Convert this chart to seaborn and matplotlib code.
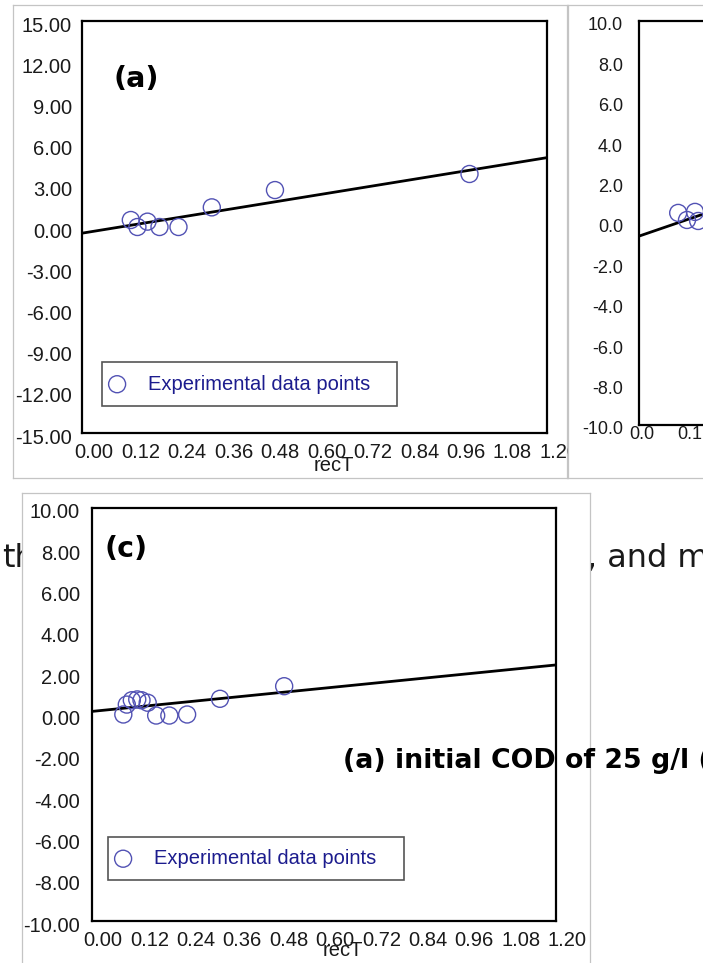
import matplotlib
matplotlib.use("Agg")
import matplotlib.pyplot as plt
import seaborn as sns
from matplotlib.font_manager import FontProperties
from matplotlib.transforms import ScaledTranslation

# ---------------- data ----------------
a_x = [0.126, 0.143, 0.169, 0.200, 0.249, 0.335, 0.498, 1.000]
a_y = [0.51, 0.00, 0.39, 0.00, 0.00, 1.43, 2.69, 3.86]
a_fit_x = [0.0, 1.2]
a_fit_y = [-0.45, 5.05]

b_x = [0.098, 0.120, 0.140, 0.148]
b_y = [0.50, 0.15, 0.55, 0.10]
b_fit_x = [0.0, 1.2]
b_fit_y = [-0.65, 7.50]

c_x = [0.081, 0.090, 0.103, 0.117, 0.128, 0.144, 0.166, 0.200, 0.246, 0.331, 0.497]
c_y = [0.00, 0.48, 0.69, 0.73, 0.69, 0.57, -0.05, -0.05, 0.00, 0.76, 1.37]
c_fit_x = [0.0, 1.2]
c_fit_y = [0.15, 2.40]

x_ticks = [0.00, 0.12, 0.24, 0.36, 0.48, 0.60, 0.72, 0.84, 0.96, 1.08, 1.20]
a_y_ticks = [-15, -12, -9, -6, -3, 0, 3, 6, 9, 12, 15]
bc_y_ticks = [-10, -8, -6, -4, -2, 0, 2, 4, 6, 8, 10]

legend_label = "Experimental data points"
x_label = "recT"
panel_labels = ["(a)", "(b)", "(c)"]
caption_text = "(a) initial COD of 25 g/l ("
page_text_left = "th"
page_text_right = ", and m"

# ---------------- style ----------------
sns.set_theme(style="white")
plt.rcParams["font.family"] = ["DejaVu Sans"]

W, H = 703, 963
fig = plt.figure(figsize=(W / 100, H / 100), dpi=100)
fig.patch.set_facecolor("white")


def rect(l, t, r, b):
    return [l / W, 1 - b / H, (r - l) / W, (b - t) / H]


MARK = "#5252b4"
TXT = "#1a1a1a"
LEGTXT = "#1c1c8e"
FRAME = "#c4c4c4"


def frame_axes(r, z):
    f = fig.add_axes(rect(*r), zorder=z)
    f.set_facecolor("white")
    f.set_xticks([])
    f.set_yticks([])
    for s in f.spines.values():
        s.set_color(FRAME)
        s.set_linewidth(0.9)
    return f


def panel(ax, xs, ys, fx, fy, yticks, ylim, ydec, xdec, fs, xpad, ypad,
          xshift, leg_bbox, lab, lab_pos, xlab_pos):
    sns.lineplot(x=fx, y=fy, ax=ax, color="black", lw=2.0, zorder=3,
                 estimator=None, sort=False)
    sns.scatterplot(x=xs, y=ys, ax=ax, marker="o", s=150, color=MARK,
                    facecolor="none", edgecolor=MARK, linewidth=1.0,
                    label=legend_label, zorder=4)
    ax.set_xlim(0, 1.2)
    ax.set_ylim(*ylim)
    ax.set_xticks(x_ticks)
    ax.set_xticklabels([f"{v:.{xdec}f}" for v in x_ticks])
    ax.set_yticks(yticks)
    ax.set_yticklabels([f"{v:.{ydec}f}" for v in yticks])
    ax.tick_params(axis="both", direction="in", length=4, width=0.8, colors="#8a8a8a",
                   labelcolor=TXT)
    ax.tick_params(axis="x", pad=xpad)
    ax.tick_params(axis="y", pad=ypad)
    tfp = FontProperties(family="Liberation Sans", size=fs)
    for t in ax.get_xticklabels() + ax.get_yticklabels():
        t.set_fontproperties(tfp)
        t.set_color(TXT)
    for t in ax.get_xticklabels():
        t.set_transform(t.get_transform() + ScaledTranslation(xshift / 100, 0, fig.dpi_scale_trans))
    for t in ax.get_yticklabels():
        t.set_transform(t.get_transform() + ScaledTranslation(0, -3 / 100, fig.dpi_scale_trans))
    for s in ax.spines.values():
        s.set_color("black")
        s.set_linewidth(1.6)
        s.set_visible(True)
    ax.set_facecolor("white")
    ax.set_xlabel(x_label, fontproperties=FontProperties(family="Liberation Sans", size=14.5),
                  color=TXT)
    ax.set_ylabel("")
    ax.xaxis.set_label_coords(*xlab_pos)
    ax.xaxis.label.set_va("center")
    leg = ax.legend(loc="center left", bbox_to_anchor=leg_bbox, mode="expand",
                    borderaxespad=0, frameon=True, fancybox=False,
                    edgecolor="#555555", framealpha=1, borderpad=0.6,
                    handlelength=0.3, handletextpad=1.4,
                    prop=FontProperties(family="Liberation Sans", size=14.5),
                    labelcolor=LEGTXT)
    leg.get_frame().set_linewidth(1.2)
    if lab is not None:
        ax.text(lab_pos[0], lab_pos[1], lab, transform=ax.transAxes, va="baseline",
                ha="left", fontsize=20.5, fontweight="bold", family="DejaVu Sans",
                color="black", zorder=6)


# page text underneath the images
fig.text(2 / W, 1 - 567 / H, page_text_left, fontsize=23, family="DejaVu Sans",
         va="baseline", ha="left", color="#1a1a1a", zorder=-1)
fig.text(587 / W, 1 - 567 / H, page_text_right, fontsize=23, family="DejaVu Sans",
         va="baseline", ha="left", color="#1a1a1a", zorder=-1)

# panel (a)
frame_axes((13, 5, 567, 478), 0)
ax_a = fig.add_axes(rect(82, 21, 547, 433), zorder=1)
panel(ax_a, a_x, a_y, a_fit_x, a_fit_y, a_y_ticks, (-15, 15), 2, 2, 14.5, 7.2, 7.2, 12,
      ((102 - 82) / 465, (433 - 408) / 412, 295 / 465, 48 / 412),
      panel_labels[0], ((113 - 82) / 465, (433 - 87) / 412),
      ((334 - 82) / 465, -(465 - 433) / 412))

# panel (b) (cut off at the right edge; its legend lies beyond the visible part)
frame_axes((568, 5, 1250, 478), 2)
ax_b = fig.add_axes(rect(639, 21, 1119, 425), zorder=3)
panel(ax_b, b_x, b_y, b_fit_x, b_fit_y, bc_y_ticks, (-10, 10), 1, 1, 13, 0.8, 11.5, 3,
      (0.16, 0.06, 0.63, 0.117),
      None, None, (0.54, -0.078))

# panel (c)
frame_axes((22, 493, 590, 1010), 4)
ax_c = fig.add_axes(rect(92, 508, 556, 921), zorder=5)
panel(ax_c, c_x, c_y, c_fit_x, c_fit_y, bc_y_ticks, (-10, 10), 2, 2, 14.5, 7.2, 8.6, 11,
      ((108 - 92) / 464, (921 - 883) / 413, 296 / 464, 49 / 413),
      panel_labels[2], ((105 - 92) / 464, (921 - 557) / 413),
      ((343 - 92) / 464, -(950 - 921) / 413))

# caption text over the images
fig.text(343 / W, 1 - 768 / H, caption_text, fontsize=19.3, fontweight="bold",
         family="DejaVu Sans", va="baseline", ha="left", color="black", zorder=10)

fig.savefig("out.png", dpi=100)
